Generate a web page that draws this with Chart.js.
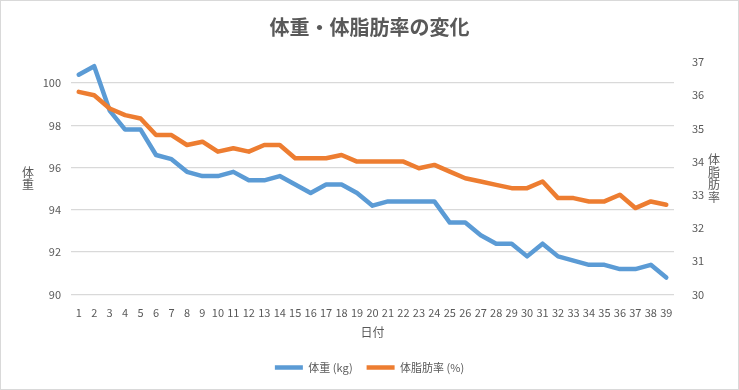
<!DOCTYPE html>
<html>
<head>
<meta charset="utf-8">
<script src="https://cdn.jsdelivr.net/npm/chart.js@4.4.1/dist/chart.umd.min.js"></script>
<style>
  html, body { margin: 0; padding: 0; background: #fff; }
  #wrap { width: 739px; height: 390px; box-sizing: border-box; border: 1px solid #d9d9d9; }
</style>
</head>
<body>
<div id="wrap"><canvas id="chart" width="737" height="388"></canvas></div>
<script>
const days = ['1','2','3','4','5','6','7','8','9','10','11','12','13','14','15','16','17','18','19','20',
  '21','22','23','24','25','26','27','28','29','30','31','32','33','34','35','36','37','38','39']
const weight = [100.4, 100.8, 98.7, 97.8, 97.8, 96.6, 96.4, 95.8, 95.6, 95.6,
  95.8, 95.4, 95.4, 95.6, 95.2, 94.8, 95.2, 95.2, 94.8, 94.2,
  94.4, 94.4, 94.4, 94.4, 93.4, 93.4, 92.8, 92.4, 92.4, 91.8,
  92.4, 91.8, 91.6, 91.4, 91.4, 91.2, 91.2, 91.4, 90.8]
const bodyFat = [36.1, 36.0, 35.6, 35.4, 35.3, 34.8, 34.8, 34.5, 34.6, 34.3,
  34.4, 34.3, 34.5, 34.5, 34.1, 34.1, 34.1, 34.2, 34.0, 34.0,
  34.0, 34.0, 33.8, 33.9, 33.7, 33.5, 33.4, 33.3, 33.2, 33.2,
  33.4, 32.9, 32.9, 32.8, 32.8, 33.0, 32.6, 32.8, 32.7]
const weightTicks = [90, 92, 94, 96, 98, 100]
const fatTicks = [30, 31, 32, 33, 34, 35, 36, 37]

const grey = '#595959'
const font = "'Noto Sans CJK JP', sans-serif"

// vertical (stacked) axis titles like the original
const stackedTitles = {
    id: 'stackedTitles',
    afterDraw(chart) {
        const ctx = chart.ctx
        const area = chart.chartArea
        const mid = (area.top + area.bottom) / 2
        ctx.save()
        ctx.fillStyle = grey
        ctx.font = '12px ' + font
        ctx.textAlign = 'center'
        ctx.textBaseline = 'middle'
        const draw = (text, x) => {
            const chars = text.split('')
            const step = 12.5
            let y = mid - (chars.length - 1) * step / 2
            chars.forEach(c => { ctx.fillText(c, x, y); y += step })
        }
        draw('体重', chart.scales.y.left + 27)
        draw('体脂肪率', chart.scales.y1.right - 24)
        ctx.restore()
    }
}

new Chart(document.getElementById('chart'), {
    type: 'line',
    data: {
        labels: days,
        datasets: [{
            label: '体重 (kg)',
            data: weight,
            yAxisID: 'y',
            borderColor: '#5B9BD5',
            backgroundColor: '#5B9BD5',
            borderWidth: 4.5,
            pointRadius: 0,
            tension: 0,
            borderJoinStyle: 'round',
            borderCapStyle: 'round',
            order: 1
        }, {
            label: '体脂肪率 (%)',
            data: bodyFat,
            yAxisID: 'y1',
            borderColor: '#ED7D31',
            backgroundColor: '#ED7D31',
            borderWidth: 4.5,
            pointRadius: 0,
            tension: 0,
            borderJoinStyle: 'round',
            borderCapStyle: 'round',
            order: 0
        }]
    },
    options: {
        responsive: false,
        animation: false,
        layout: { padding: { top: 6, left: 0, right: 0, bottom: 6 } },
        plugins: {
            title: {
                display: true,
                text: '体重・体脂肪率の変化',
                color: grey,
                font: { family: font, size: 20, weight: 'bold' },
                padding: { top: 8, bottom: 23 }
            },
            legend: {
                position: 'bottom',
                labels: {
                    color: grey,
                    font: { family: font, size: 11 },
                    usePointStyle: true,
                    pointStyle: 'line',
                    pointStyleWidth: 28,
                    boxHeight: 11,
                    padding: 14,
                    sort: (a, b) => a.datasetIndex - b.datasetIndex
                }
            },
            tooltip: { enabled: false }
        },
        scales: {
            x: {
                offset: true,
                grid: { display: false },
                border: { display: false },
                ticks: {
                    color: grey,
                    font: { family: font, size: 11 },
                    autoSkip: false,
                    maxRotation: 0,
                    padding: 4
                },
                title: {
                    display: true,
                    text: '日付',
                    color: grey,
                    font: { family: font, size: 12 },
                    padding: { top: 2, bottom: 8 }
                }
            },
            y: {
                position: 'left',
                min: 90,
                max: 101,
                afterBuildTicks: s => { s.ticks = weightTicks.map(v => ({ value: v })) },
                afterFit: s => { s.width = 70 },
                grid: { color: '#d9d9d9', drawTicks: false, lineWidth: 1.3 },
                border: { display: false },
                ticks: { color: grey, font: { family: font, size: 11 }, padding: 10 }
            },
            y1: {
                position: 'right',
                min: 30,
                max: 37,
                afterBuildTicks: s => { s.ticks = fatTicks.map(v => ({ value: v })) },
                afterFit: s => { s.width = 64 },
                grid: { display: false },
                border: { display: false },
                ticks: { color: grey, font: { family: font, size: 11 }, padding: 10 }
            }
        }
    },
    plugins: [stackedTitles]
})
</script>
</body>
</html>
